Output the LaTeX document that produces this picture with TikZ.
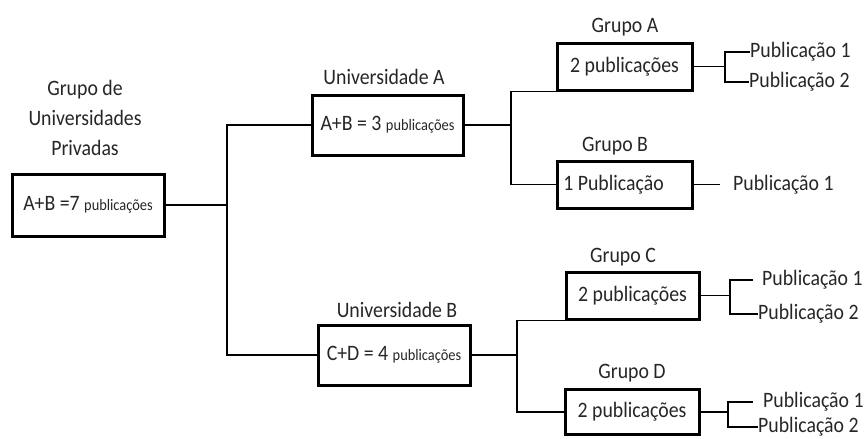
\documentclass[tikz,border=0pt]{standalone}
\usepackage{fontspec}
\setmainfont{Carlito}
\usepackage{graphicx}
\newcommand\sx[1]{\scalebox{0.9}[1]{#1}}
\newcommand\smallpub{{\fontsize{16}{18}\selectfont publicações}}
\definecolor{txt}{HTML}{262626}
\begin{document}
\begin{tikzpicture}[x=1pt,y=-1pt,
  every node/.style={text=txt, font=\fontsize{22}{26}\selectfont},
  bx/.style={draw=black, line width=3pt, inner sep=0pt, fill=white},
  lbl/.style={inner sep=0pt},
  pub/.style={inner sep=0pt, anchor=west},
  ln/.style={line width=1.3pt, draw=black}]
\useasboundingbox (0,0) rectangle (865,439);
% boxes
\node[bx, minimum width=152pt, minimum height=62pt] (root) at (88,205) {\sx{A+B =7 \smallpub}};
\node[bx, minimum width=151pt, minimum height=60pt] (univA) at (387.5,125) {\sx{A+B = 3 \smallpub}};
\node[bx, minimum width=152pt, minimum height=60pt] (univB) at (394,355) {\raisebox{2pt}{\sx{C+D = 4 \smallpub}}};
\node[bx, minimum width=135pt, minimum height=47pt] (grpA) at (624.5,66.5) {\sx{2 publicações}};
\node[bx, minimum width=135pt, minimum height=47pt] (grpB) at (624.5,184.5) {\hspace*{-22pt}\sx{1 Publicação}};
\node[bx, minimum width=133pt, minimum height=47pt] (grpC) at (632.5,295.5) {\sx{2 publicações}};
\node[bx, minimum width=134pt, minimum height=45pt] (grpD) at (632,412) {\sx{2 publicações}};
% labels
\node[lbl, align=center, font=\fontsize{22}{30}\selectfont] (lroot) at (85,118) {\sx{Grupo de}\\\sx{Universidades}\\\sx{Privadas}};
\node[lbl] (lA) at (384,77) {\sx{Universidade A}};
\node[lbl] (lB) at (397,310) {\sx{Universidade B}};
\node[lbl] (lgA) at (625,27) {\sx{Grupo A}};
\node[lbl] (lgB) at (615,146) {\sx{Grupo B}};
\node[lbl] (lgC) at (623,257) {\sx{Grupo C}};
\node[lbl] (lgD) at (632,373) {\sx{Grupo D}};
% publication leaves
\node[pub] (pA1) at (750,52) {\sx{Publicação 1}};
\node[pub] (pA2) at (749,82) {\sx{Publicação 2}};
\node[pub] (pB1) at (733,185) {\sx{Publicação 1}};
\node[pub] (pC1) at (762,280) {\sx{Publicação 1}};
\node[pub] (pC2) at (758,314) {\sx{Publicação 2}};
\node[pub] (pD1) at (763,402) {\sx{Publicação 1}};
\node[pub] (pD2) at (758,427) {\sx{Publicação 2}};
% branch points
\coordinate (r1) at (227,0);
\coordinate (a1) at (511,0);
\coordinate (b1) at (517,0);
\coordinate (ga) at (725,0);
\coordinate (gc) at (730,0);
\coordinate (gd) at (728,0);
% connectors
\draw[ln] (root.east) -- (root.east -| r1);
\draw[ln] (univA.west) -- (univA.west -| r1) -- (univB.west -| r1) -- (univB.west);
\draw[ln] (univA.east) -- (univA.east -| a1);
\draw[ln] (grpA.south west) -- (grpA.south west -| a1) -- (grpB.west -| a1) -- (grpB.west);
\draw[ln] (univB.east) -- (univB.east -| b1);
\draw[ln] (grpC.south west) -- (grpC.south west -| b1) -- (grpD.west -| b1) -- (grpD.west);
\draw[ln] (grpA.east) -- (grpA.east -| ga);
\draw[ln] (pA1.west) -- (pA1.west -| ga) -- (pA2.west -| ga) -- (pA2.west);
\draw[ln, shorten >=13pt] (grpB.east) -- (grpB.east -| pB1.west);
\draw[ln] (grpC.east) -- (grpC.east -| gc);
\draw[ln, shorten <=9pt] (pC1.west) -- (pC1.west -| gc) -- (pC2.west -| gc) -- (pC2.west);
\draw[ln] (grpD.east) -- (grpD.east -| gd);
\draw[ln, shorten <=10pt] (pD1.west) -- (pD1.west -| gd) -- (pD2.west -| gd) -- (pD2.west);
\end{tikzpicture}
\end{document}
